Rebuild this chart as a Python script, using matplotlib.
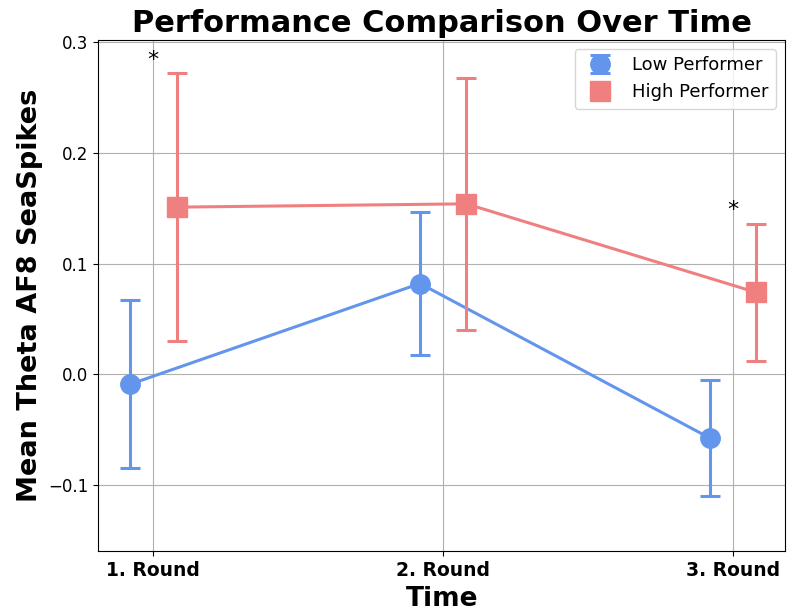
import matplotlib.pyplot as plt
import numpy as np

# data
rounds = ["1. Round", "2. Round", "3. Round"]
low_mean = [-0.009, 0.082, -0.0576]
low_err = [0.076, 0.065, 0.052]
high_mean = [0.151, 0.154, 0.074]
high_err = [0.121, 0.114, 0.062]
sig_rounds = [0, 2]

low_color = "#6495ED"
high_color = "#F08080"
off = 0.08

x = np.arange(len(rounds))

fig, ax = plt.subplots(figsize=(7.93, 6.16), dpi=100)
fig.subplots_adjust(left=0.124, right=0.99, top=0.935, bottom=0.105)

# lines first, then points with error bars (these give the legend entries)
ax.plot(x - off, low_mean, "-", color=low_color, linewidth=2.2, zorder=3)
ax.plot(x + off, high_mean, "-", color=high_color, linewidth=2.2, zorder=3)
low_eb = ax.errorbar(x - off, low_mean, yerr=low_err, fmt="o", color=low_color,
                     markersize=14, elinewidth=2.2, capsize=7, capthick=2.2,
                     label="Low Performer", zorder=3)
ax.errorbar(x + off, high_mean, yerr=high_err, fmt="none", ecolor=high_color,
            elinewidth=2.2, capsize=7, capthick=2.2, zorder=3)
high_pts, = ax.plot(x + off, high_mean, "s", color=high_color, markersize=14,
                    label="High Performer", zorder=3)

for i in sig_rounds:
    top = max(low_mean[i] + low_err[i], high_mean[i] + high_err[i])
    ax.text(x[i], top + 0.003, "*", ha="center", va="bottom", fontsize=16)

ax.set_xticks(x)
ax.set_xticklabels(rounds, fontweight="bold", fontsize=13.5)
ax.tick_params(axis="y", labelsize=12)
ax.set_ylim(-0.16, 0.302)
ax.set_xlim(-0.19, 2.18)
ax.grid(True, color="#b0b0b0")
ax.set_axisbelow(True)

ax.set_title("Performance Comparison Over Time", fontsize=22, fontweight="bold")
ax.set_xlabel("Time", fontsize=19, fontweight="bold")
ax.set_ylabel("Mean Theta AF8 SeaSpikes", fontsize=19.5, fontweight="bold")
ax.legend([low_eb, high_pts], ["Low Performer", "High Performer"],
          loc="upper right", fontsize=13)

fig.savefig("out.png")
